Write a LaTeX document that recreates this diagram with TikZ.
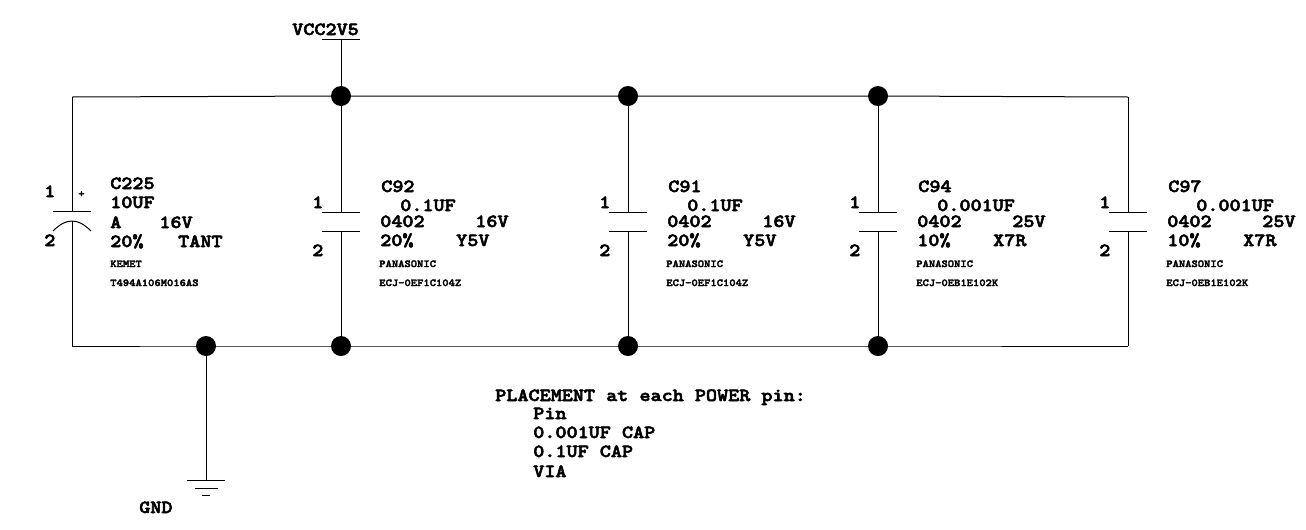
\documentclass[tikz,border=0pt]{standalone}
\usepackage{fontspec}
\newfontfamily\courf[Path=,Extension=.otf,FakeStretch=1.14]{lmmonolt10-bold}
\tikzset{
  wire/.style={draw=black,line width=0.75pt},
  dot/.style={circle,fill=black,draw=none,minimum size=15pt,inner sep=0pt},
  lbl/.style={anchor=base west,inner sep=0pt,font=\courf\fontsize{13.9}{14}\selectfont,
    execute at begin node={\special{pdf:code 2 Tr 0.4 w}},execute at end node={\special{pdf:code 0 Tr}}},
  tiny/.style={anchor=base west,inner sep=0pt,font=\courf\fontsize{7.9}{8}\selectfont,
    execute at begin node={\special{pdf:code 2 Tr 0.25 w}},execute at end node={\special{pdf:code 0 Tr}}},
}
\begin{document}
\begin{tikzpicture}[x=0.75pt,y=-0.75pt]
\useasboundingbox (0,0) rectangle (1306,529);
% rail corners and junctions
\coordinate (tl) at (72,97);
\coordinate (tr) at (1128,97);
\coordinate (bl) at (72,346);
\coordinate (br) at (1128,346);
\node[dot] (t1) at (341,96) {};
\node[dot] (t2) at (628,96) {};
\node[dot] (t3) at (878,96) {};
\node[dot] (b0) at (206,346) {};
\node[dot] (b1) at (341,346) {};
\node[dot] (b2) at (628,346) {};
\node[dot] (b3) at (878,346) {};
\draw[wire] (tl) -- (t1.center) -- (t2.center) -- (t3.center) -- (tr);
\draw[wire] (bl) -- (b0.center) -- (b1.center) -- (b2.center) -- (b3.center) -- (br);
% VCC
\coordinate (vcc) at (341,39);
\draw[wire] (322,39) -- (360,39);
\draw[wire] (vcc) -- (t1.center);
\node[lbl] (vcctxt) at (292,35) {VCC2V5};
% GND
\coordinate (gnd) at (206,480);
\draw[wire] (b0.center) -- (gnd);
\draw[wire] (187,480) -- (225,480);
\draw[wire] (195,488) -- (218,488);
\draw[wire] (202,495) -- (210,495);
\node[lbl] (gndtxt) at (139,513) {GND};
% C225
\coordinate (c0a) at (72,211);
\coordinate (c0b) at (72,221);
\draw[wire] (tl) -- (c0a);
\draw[wire] (53,211) -- (91,211);
\draw[wire] (53,231) .. controls (60,224) and (66,221) .. (72,221) .. controls (78,221) and (84,224) .. (91,231);
\draw[wire] (c0b) -- (bl);
\node[lbl] (c0p1) at (44,197) {1};
\node[lbl] (c0p2) at (44,246) {2};
\node[tiny,anchor=base] (c0plus) at (81.5,197) {+};
\node[lbl] (c0n) at (110,189) {C225};
\node[lbl] (c0v) at (110,208) {10UF};
\node[lbl] (c0s) at (110,228) {A\hspace{28.5pt}16V};
\node[lbl] (c0t) at (110,247) {20\%\hspace{26pt}TANT};
\node[tiny] (c0m) at (110,267) {KEMET};
\node[tiny] (c0k) at (110,286) {T494A106M016AS};
% plain capacitors
\foreach \id/\top/\bot/\dx/\vx/\name/\val/\volt/\pct/\die/\part in {%
  c1/t1/b1/0/400/C92/0.1UF/16V/20/Y5V/ECJ-0EF1C104Z,
  c2/t2/b2/287/400/C91/0.1UF/16V/20/Y5V/ECJ-0EF1C104Z,
  c3/t3/b3/537/400/C94/0.001UF/25V/10/X7R/ECJ-0EB1E102K,
  c4/tr/br/787/409/C97/0.001UF/25V/10/X7R/ECJ-0EB1E102K}{
  \begin{scope}[xshift=\dx*0.75pt]
    \coordinate (\id a) at (341,212);
    \coordinate (\id b) at (341,231);
    \draw[wire] (322,212) -- (360,212);
    \draw[wire] (322,231) -- (360,231);
    \node[lbl] (\id p1) at (312,208) {1};
    \node[lbl] (\id p2) at (312,256) {2};
    \node[lbl] (\id n) at (381,192) {\name};
    \node[lbl] (\id v) at (\vx,211) {\val};
    \node[lbl] (\id s) at (380,227) {0402\hspace{38pt}\volt};
    \node[lbl] (\id t) at (380,246) {\pct\%\hspace{32pt}\die};
    \node[tiny] (\id m) at (379,267) {PANASONIC};
    \node[tiny] (\id k) at (379,286) {\part};
  \end{scope}
  \draw[wire] (\top.center) -- (\id a);
  \draw[wire] (\id b) -- (\bot.center);
}
% placement note
\node[lbl] (pl0) at (495,401) {PLACEMENT at each POWER pin:};
\node[lbl] (pl1) at (533,419) {Pin};
\node[lbl] (pl2) at (533,438) {0.001UF CAP};
\node[lbl] (pl3) at (533,457) {0.1UF CAP};
\node[lbl] (pl4) at (533,477) {VIA};
\end{tikzpicture}
\end{document}
